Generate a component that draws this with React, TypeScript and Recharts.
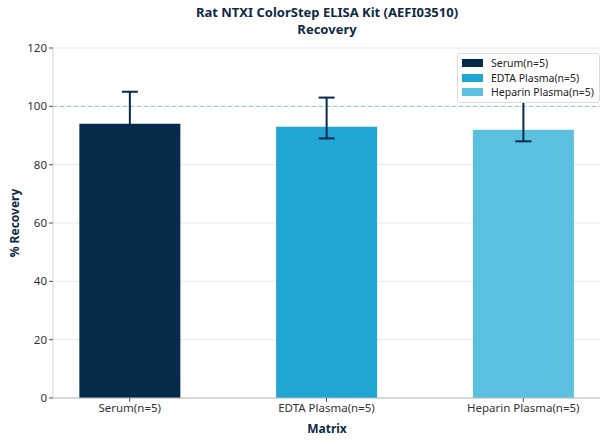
import React from 'react';
import {
  BarChart,
  Bar,
  Cell,
  XAxis,
  YAxis,
  CartesianGrid,
  ReferenceLine,
  ErrorBar,
} from 'recharts';

const categories = ['Serum(n=5)', 'EDTA Plasma(n=5)', 'Heparin Plasma(n=5)'];
const recovery = [94, 93, 92];
const errLow = [5, 4, 4];
const errHigh = [11, 10, 11];
const colors = ['#062b4a', '#1fa6d3', '#5bbfe0'];
const yTicks = [0, 20, 40, 60, 80, 100, 120];
const titleLines = ['Rat NTXI ColorStep ELISA Kit (AEFI03510)', 'Recovery'];

const data = categories.map((name, i) => ({
  x: i,
  name,
  recovery: recovery[i],
  err: [errLow[i], errHigh[i]],
}));

const textColor = '#0f2a44';

// legend sits over the plot like matplotlib's, hiding the heparin whisker
const LegendBox = () => (
  <div
    style={{
      position: 'absolute',
      left: 457,
      top: 53,
      zIndex: 5,
      background: '#fff',
      border: '1px solid #dcdcdc',
      borderRadius: 3,
      padding: '2px 5px 2px 4px',
      whiteSpace: 'nowrap',
    }}
  >
    {categories.map((c, i) => (
      <div key={c} style={{ display: 'flex', alignItems: 'center', height: 14.5 }}>
        <span style={{ width: 21, height: 8, background: colors[i], display: 'inline-block' }} />
        <span style={{ marginLeft: 8, fontSize: 10.5, color: '#222' }}>{c}</span>
      </div>
    ))}
  </div>
);

export default function App() {
  return (
    <div
      style={{
        position: 'absolute',
        top: 0,
        left: 0,
        width: 608,
        height: 444,
        background: '#fff',
        fontFamily: '"Noto Sans", sans-serif',
      }}
    >
      {titleLines.map((t, i) => (
        <div
          key={t}
          style={{
            position: 'absolute',
            top: 6 + i * 17,
            left: 54,
            width: 546,
            textAlign: 'center',
            fontWeight: 700,
            fontSize: 13,
            lineHeight: '13px',
            color: textColor,
          }}
        >
          {t}
        </div>
      ))}
      <div
        style={{
          position: 'absolute',
          left: 14,
          top: 223,
          transform: 'translate(-50%, -50%) rotate(-90deg)',
          fontWeight: 700,
          fontSize: 12,
          color: textColor,
          whiteSpace: 'nowrap',
        }}
      >
        % Recovery
      </div>
      <div
        style={{
          position: 'absolute',
          left: 54,
          width: 546,
          top: 420,
          textAlign: 'center',
          fontWeight: 700,
          fontSize: 12,
          color: textColor,
        }}
      >
        Matrix
      </div>
      <BarChart
        width={608}
        height={444}
        data={data}
        margin={{ top: 48, right: 8, bottom: 0, left: 0 }}
      >
        <CartesianGrid vertical={false} stroke="#e8e8e8" />
        <XAxis
          type="number"
          dataKey="x"
          domain={[-0.39, 2.39]}
          ticks={[0, 1, 2]}
          tickFormatter={(v: number) => categories[v]}
          height={46}
          stroke="#b8bfc6"
          tickLine={{ stroke: '#555' }}
          tickSize={4}
          tick={{ fontSize: 11.5, fill: '#333' }}
          allowDataOverflow
        />
        <YAxis
          domain={[0, 120]}
          ticks={yTicks}
          width={53}
          stroke="#cfd4d8"
          tickLine={{ stroke: '#555' }}
          tickSize={4}
          tick={{ fontSize: 11.5, fill: '#333' }}
        />
        <ReferenceLine y={100} stroke="#8cc4d8" strokeDasharray="4 3" />
        <Bar dataKey="recovery" barSize={101} isAnimationActive={false}>
          {data.map((d, i) => (
            <Cell key={d.name} fill={colors[i]} />
          ))}
          <ErrorBar dataKey="err" width={8} stroke="#062b4a" strokeWidth={2} direction="y" />
        </Bar>
      </BarChart>
      <LegendBox />
    </div>
  );
}
